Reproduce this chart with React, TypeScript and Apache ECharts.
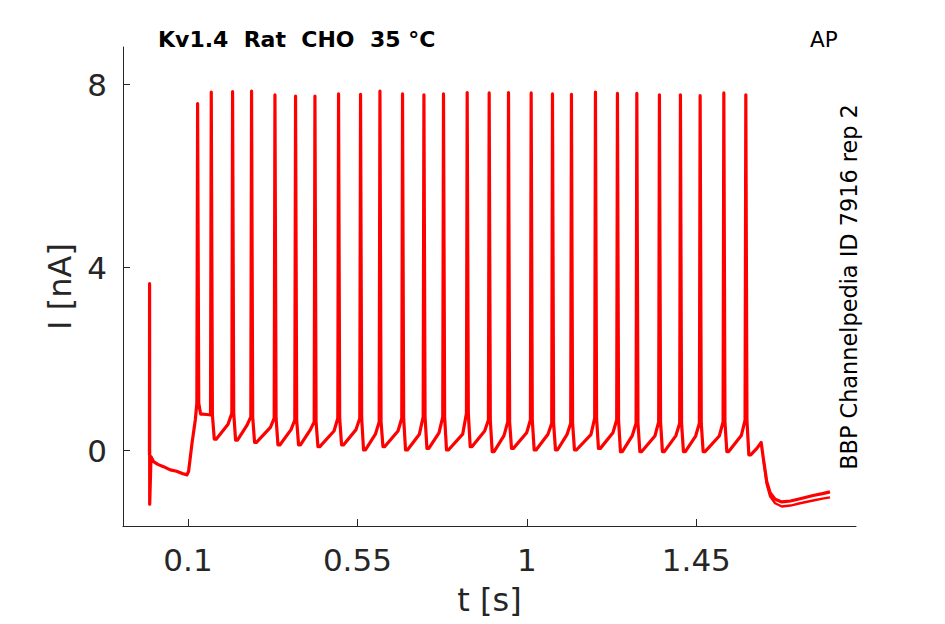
import React, { useEffect, useRef } from "react";
import * as echarts from "echarts";

// ---- Data ----
const xTickValues = [0.1, 0.55, 1, 1.45];
const xTickLabels = ["0.1", "0.55", "1", "1.45"];
const yTickValues = [0, 4, 8];
const yTickLabels = ["0", "4", "8"];

// onset: capacitive transient and the pre-stimulus baseline, then the ramp
const onsetTimes = [-0.0022, -0.0019, -0.0016, 0.0019, 0.0088, 0.02, 0.035, 0.053, 0.07, 0.085, 0.0974, 0.1017, 0.1107, 0.1195];
const onsetValues = [-0.1, 3.65, -1.17, -0.13, -0.24, -0.3, -0.35, -0.42, -0.45, -0.5, -0.53, -0.45, 0.16, 0.67];

// action potentials
const spikeTimes = [0.1256, 0.1619, 0.2185, 0.2689, 0.331, 0.3857, 0.4372, 0.4999, 0.5583, 0.6098, 0.6698, 0.7266, 0.7786, 0.8415, 0.8999, 0.9512, 1.0114, 1.068, 1.1184, 1.1821, 1.2405, 1.292, 1.352, 1.4078, 1.4601, 1.523, 1.5814];
const spikePeaks = [7.59, 7.84, 7.85, 7.86, 7.78, 7.75, 7.75, 7.8, 7.79, 7.86, 7.8, 7.78, 7.8, 7.83, 7.82, 7.83, 7.82, 7.8, 7.79, 7.84, 7.81, 7.81, 7.78, 7.78, 7.76, 7.82, 7.78];
// value ~12 ms before each spike (slow part of the interspike rise); first spike rides the ramp
const riseValues = [null, 0.79, 0.58, 0.56, 0.51, 0.46, 0.46, 0.43, 0.46, 0.36, 0.43, 0.36, 0.39, 0.36, 0.43, 0.33, 0.39, 0.36, 0.35, 0.35, 0.39, 0.33, 0.32, 0.33, 0.32, 0.32, 0.33];
const preSpikeValues = [1.04, 0.78, 0.82, 0.74, 0.71, 0.67, 0.63, 0.71, 0.71, 0.63, 0.71, 0.74, 0.74, 0.82, 0.67, 0.63, 0.67, 0.6, 0.6, 0.71, 0.67, 0.6, 0.63, 0.6, 0.6, 0.63, 0.67];
const troughValues = [0.8, 0.25, 0.23, 0.18, 0.125, 0.125, 0.09, 0.125, 0.015, 0.09, 0.015, 0.05, 0.015, 0.09, -0.02, 0.05, 0.015, 0.015, 0.015, 0.05, -0.02, -0.02, -0.02, -0.02, -0.02, -0.02, -0.09];

// end of stimulus: small bump and fall
const endTimes = [1.6107, 1.6222, 1.6284];
const endValues = [0.05, 0.18, -0.2];

// the two repetitions separate in the tail
const tailTimes = [1.6371, 1.6459, 1.6592, 1.677, 1.7, 1.7255, 1.76, 1.785, 1.805];
const upperTailValues = [-0.68, -0.92, -1.06, -1.12, -1.1, -1.05, -0.98, -0.94, -0.9];
const lowerTailValues = [-0.74, -1.0, -1.15, -1.22, -1.2, -1.15, -1.09, -1.05, -1.02];

const FONT = "DejaVu Sans";
const AXIS_COLOR = "#262626";
const RED = "#ff0000";

function buildMainTrace(): number[][] {
  const pts: number[][] = [];
  onsetTimes.forEach((t, i) => pts.push([t, onsetValues[i]]));
  spikeTimes.forEach((t, i) => {
    const r = riseValues[i];
    if (r !== null) pts.push([t - 0.012, r]);
    pts.push([t - 0.002, preSpikeValues[i]]);
    pts.push([t, spikePeaks[i]]);
    pts.push([t + 0.003, preSpikeValues[i]]);
    pts.push([t + 0.008, troughValues[i]]);
    pts.push([t + 0.013, troughValues[i]]);
  });
  endTimes.forEach((t, i) => pts.push([t, endValues[i]]));
  tailTimes.forEach((t, i) => pts.push([t, upperTailValues[i]]));
  return pts;
}

function buildLowerTail(): number[][] {
  const pts: number[][] = [[endTimes[endTimes.length - 1], endValues[endValues.length - 1]]];
  tailTimes.forEach((t, i) => pts.push([t, lowerTailValues[i]]));
  return pts;
}

export default function App() {
  const ref = useRef<HTMLDivElement>(null);

  useEffect(() => {
    if (!ref.current) return;
    const chart = echarts.init(ref.current, null, { renderer: "svg" });
    const labelStyle = { fontFamily: FONT, fontSize: 31, color: AXIS_COLOR };
    chart.setOption({
      animation: false,
      backgroundColor: "#ffffff",
      grid: { left: 123, right: 89, top: 47, bottom: 98, containLabel: false },
      xAxis: {
        type: "value",
        min: -0.0725,
        max: 1.874,
        axisLine: { show: true, onZero: false, lineStyle: { color: AXIS_COLOR, width: 1 } },
        axisTick: { show: true, inside: true, length: 7, customValues: xTickValues, lineStyle: { color: AXIS_COLOR, width: 1 } },
        axisLabel: {
          ...labelStyle,
          margin: 18,
          customValues: xTickValues,
          formatter: (v: number) => {
            const i = xTickValues.findIndex((x) => Math.abs(x - v) < 1e-6);
            return i >= 0 ? xTickLabels[i] : "";
          },
        },
        splitLine: { show: false },
        name: "t [s]",
        nameLocation: "middle",
        nameGap: 58,
        nameTextStyle: { fontFamily: FONT, fontSize: 32, color: AXIS_COLOR },
      },
      yAxis: {
        type: "value",
        min: -1.647,
        max: 8.825,
        axisLine: { show: true, onZero: false, lineStyle: { color: AXIS_COLOR, width: 1 } },
        axisTick: { show: true, inside: true, length: 7, customValues: yTickValues, lineStyle: { color: AXIS_COLOR, width: 1 } },
        axisLabel: {
          ...labelStyle,
          margin: 16,
          customValues: yTickValues,
          formatter: (v: number) => {
            const i = yTickValues.findIndex((x) => Math.abs(x - v) < 1e-6);
            return i >= 0 ? yTickLabels[i] : "";
          },
        },
        splitLine: { show: false },
        name: "I [nA]",
        nameLocation: "middle",
        nameGap: 46,
        nameTextStyle: { fontFamily: FONT, fontSize: 32, color: AXIS_COLOR },
      },
      graphic: [
        {
          type: "text",
          x: 158,
          y: 39,
          style: { text: "Kv1.4  Rat  CHO  35 °C", font: `bold 22px "${FONT}"`, fill: "#000000", align: "left", verticalAlign: "middle" },
        },
        {
          type: "text",
          x: 810,
          y: 39,
          style: { text: "AP", font: `21.5px "${FONT}"`, fill: "#000000", align: "left", verticalAlign: "middle" },
        },
        {
          type: "text",
          x: 849,
          y: 287,
          rotation: Math.PI / 2,
          style: { text: "BBP Channelpedia ID 7916 rep 2", font: `22.4px "${FONT}"`, fill: "#000000", align: "center", verticalAlign: "middle" },
        },
      ],
      series: [
        {
          type: "line",
          data: buildMainTrace(),
          showSymbol: false,
          symbol: "none",
          silent: true,
          lineStyle: { color: RED, width: 3.2, join: "round" },
        },
        {
          type: "line",
          data: buildLowerTail(),
          showSymbol: false,
          symbol: "none",
          silent: true,
          lineStyle: { color: RED, width: 2.4, join: "round" },
        },
      ],
    });
    return () => chart.dispose();
  }, []);

  return <div ref={ref} style={{ position: "absolute", left: 0, top: 0, width: 945, height: 624 }} />;
}
